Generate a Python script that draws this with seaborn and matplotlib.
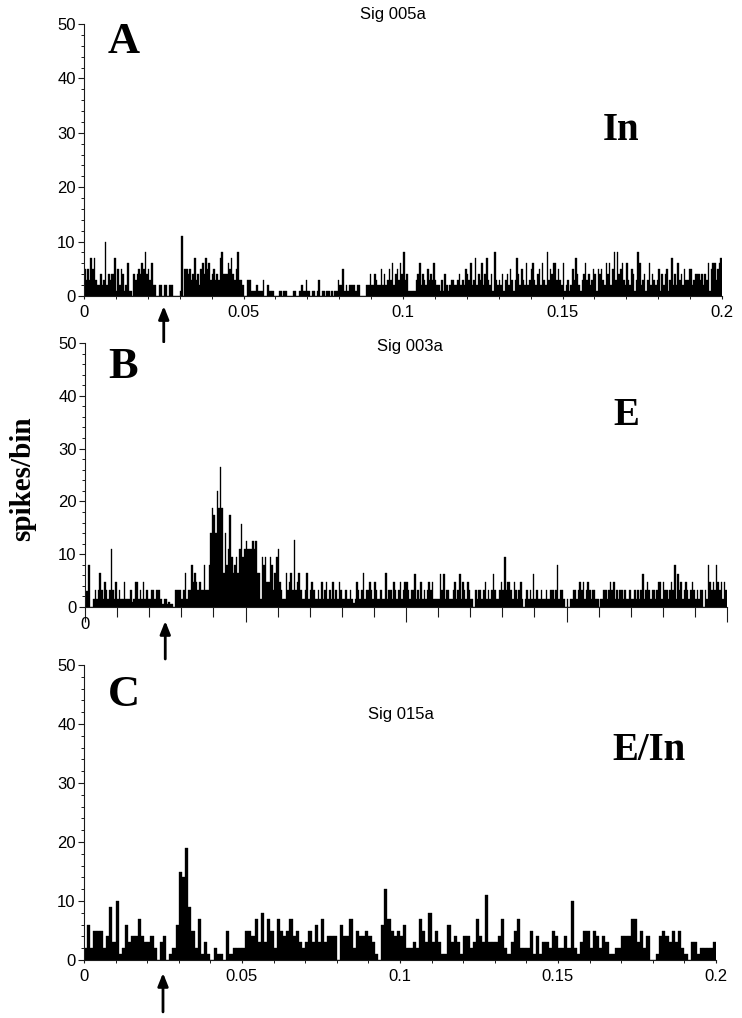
import numpy as np
import pandas as pd
import matplotlib
matplotlib.use("Agg")
import matplotlib.pyplot as plt
from matplotlib.ticker import MultipleLocator, FixedLocator, FixedFormatter
import seaborn as sns

# ---------------- data ----------------
# Panel A: Sig 005a, 0.5 ms bins, 0 - 0.2 s
a_counts = [
    5, 3, 5, 3, 7, 5, 7, 3, 2, 2,   4, 2, 3, 10, 2, 4, 3, 4, 4, 7,
    1, 5, 2, 5, 4, 1, 2, 6, 1, 1,   0, 4, 3, 4, 5, 4, 6, 5, 8, 4,
    5, 3, 6, 2, 2, 0, 0, 2, 2, 0,   2, 2, 0, 2, 2, 2, 0, 0, 0, 0,
    1, 11, 0, 5, 5, 4, 5, 3, 4, 7,  3, 4, 2, 5, 6, 4, 7, 5, 6, 3,
    4, 5, 3, 4, 3, 7, 8, 4, 4, 4,   6, 5, 7, 4, 3, 5, 8, 3, 3, 2,
    0, 0, 3, 3, 3, 1, 1, 1, 2, 1,   1, 1, 3, 0, 0, 2, 1, 1, 1, 0,
    0, 0, 1, 1, 0, 1, 1, 0, 0, 0,   0, 1, 1, 0, 0, 1, 2, 1, 1, 3,
    1, 1, 0, 1, 1, 0, 1, 3, 0, 1,   1, 0, 1, 1, 0, 1, 0, 1, 1, 3,
    2, 2, 5, 1, 2, 1, 2, 2, 2, 2,   1, 2, 2, 0, 0, 0, 0, 2, 2, 4,
    2, 2, 4, 3, 2, 2, 5, 2, 4, 2,   3, 5, 3, 6, 2, 4, 5, 3, 6, 4,
    8, 3, 4, 1, 1, 1, 1, 1, 3, 4,   6, 2, 4, 3, 2, 5, 3, 4, 3, 6,
    3, 2, 2, 1, 3, 1, 4, 2, 1, 2,   3, 3, 2, 2, 3, 4, 2, 3, 2, 5,
    4, 3, 6, 2, 3, 7, 2, 4, 3, 6,   2, 4, 7, 3, 2, 4, 1, 8, 3, 2,
    3, 2, 4, 1, 3, 4, 2, 5, 3, 1,   3, 7, 4, 2, 5, 3, 2, 6, 2, 3,
    5, 6, 3, 2, 4, 5, 2, 6, 3, 2,   8, 3, 5, 4, 6, 6, 3, 5, 3, 2,
    6, 1, 2, 3, 1, 2, 5, 3, 7, 4,   2, 1, 3, 4, 6, 3, 4, 2, 3, 5,
    4, 1, 5, 4, 5, 3, 2, 6, 4, 6,   2, 5, 8, 3, 8, 4, 5, 6, 3, 2,
    6, 3, 2, 5, 4, 1, 3, 8, 6, 2,   3, 4, 1, 3, 6, 2, 4, 3, 2, 3,
    5, 1, 4, 2, 4, 5, 1, 3, 7, 2,   4, 2, 6, 3, 4, 2, 5, 3, 3, 5,
    5, 2, 3, 4, 4, 4, 3, 4, 2, 4,   3, 6, 1, 5, 6, 6, 3, 5, 6, 7,
]

# Panel B: Sig 003a, 0.5 ms bins, 0 - 0.2 s
b_counts = [
    3, 3, 8, 0, 0, 1.6, 3.2, 1.6, 3.2, 6.5,  3.2, 1.6, 4.8, 3.2, 1.6, 3.2, 11, 3.2, 1.6, 4.8,
    1.6, 3.2, 1.6, 1.6, 4.8, 1.6, 1.6, 1.6, 3.2, 1,  1.6, 4.8, 4.8, 1.6, 3.2, 1.6, 4.8, 1.6, 3.2, 1.6,
    1.6, 3.2, 3.2, 1.6, 3.2, 3.2, 3.2, 1.6, 0.5, 1.6,  1.6, 0.5, 1, 0.5, 0.5, 0, 3.2, 3.2, 3.2, 3.2,
    1.6, 3.2, 6.5, 1.6, 3.2, 3.2, 8, 4.8, 6.5, 4.8,  3.2, 4.8, 3.2, 3.2, 8, 3.2, 3.2, 8, 14, 18.8,
    17.5, 14, 22, 18.8, 26.6, 18.8, 6.5, 14, 8, 11,  17.5, 9.5, 6.5, 8, 9.5, 6.5, 11, 15.8, 9.5, 11,
    12.5, 11, 11, 11, 12.5, 11, 12.5, 6.5, 6.5, 1.6,  9.5, 8, 9.5, 4.8, 4.8, 9.5, 8, 3.2, 6.5, 9.5,
    11, 4.8, 3.2, 1.6, 1.6, 6.5, 3.2, 4.8, 6.5, 3.2,  12.7, 3.2, 4.8, 6.5, 3.2, 1.6, 1.6, 3.2, 6.5, 1.6,
    3.2, 4.8, 3.2, 1.6, 1.6, 3.2, 1.6, 4.8, 1.6, 3.2,  4.8, 1.6, 3.2, 1.6, 4.8, 1.6, 3.2, 1.6, 4.8, 3.2,
    1.6, 1.6, 3.2, 1.6, 1.6, 3.2, 1.6, 0.8, 1.6, 4.8,  3.2, 1.6, 3.2, 6.5, 1.6, 3.2, 3.2, 4.8, 3.2, 1.6,
    4.8, 3.2, 1.6, 1.6, 3.2, 1.6, 1.6, 6.5, 1.6, 3.2,  3.2, 1.6, 4.8, 3.2, 1.6, 3.2, 4.8, 1.6, 3.2, 4.8,
    4.8, 3.2, 1.6, 3.2, 3.2, 6.3, 1.6, 3.2, 1.6, 4.8,  1.6, 3.2, 1.6, 3.2, 4.8, 3.2, 4.8, 1.6, 1.6, 1.6,
    1.6, 6.3, 3.2, 6.3, 1.6, 3.2, 3.2, 1.6, 1.6, 3.2,  4.8, 1.6, 3.2, 6.3, 1.6, 4.8, 3.2, 1.6, 4.8, 3.2,
    1.6, 1.6, 0, 3.2, 1.6, 3.2, 3.2, 1.6, 3.2, 4.8,  1.6, 3.2, 1.6, 3.2, 6.3, 3.2, 1.6, 1.6, 3.2, 4.8,
    3.2, 9.5, 3.2, 4.8, 4.8, 3.2, 1.6, 4.8, 3.2, 1.6,  3.2, 4.8, 1.6, 0, 1.6, 3.2, 1.6, 3.2, 1.6, 6.3,
    1.6, 3.2, 1.6, 1.6, 3.2, 1.6, 1.6, 3.2, 1.6, 1.6,  3.2, 3.2, 1.6, 3.2, 7.9, 1.6, 3.2, 3.2, 1.6, 0,
    1.6, 0, 1.6, 1.6, 3.2, 3.2, 1.6, 3.2, 4.8, 3.2,  4.8, 1.6, 3.2, 4.8, 3.2, 1.6, 3.2, 3.2, 1.6, 1.6,
    0, 1.6, 1.6, 3.2, 3.2, 1.6, 3.2, 4.8, 3.2, 4.8,  1.6, 3.2, 1.6, 3.2, 3.2, 1.6, 3.2, 1.6, 1.6, 3.2,
    1.6, 1.6, 3.2, 1.6, 3.2, 1.6, 3.2, 6.3, 1.6, 3.2,  4.8, 3.2, 1.6, 3.2, 3.2, 1.6, 3.2, 4.8, 4.8, 1.6,
    4.8, 3.2, 3.2, 1.6, 3.2, 4.8, 3.2, 7.9, 1.6, 6.3,  3.2, 4.8, 1.6, 3.2, 4.8, 3.2, 1.6, 3.2, 4.8, 3.2,
    1.6, 3.2, 1.6, 3.2, 3.2, 0, 3.2, 1.6, 7.9, 4.8,  3.2, 4.8, 3.2, 7.9, 4.8, 3.2, 4.8, 1.6, 4.8, 3.2,
]

# Panel C: Sig 015a, 1 ms bins, 0 - 0.2 s
c_counts = [
    2, 6, 2, 5, 5, 5, 2, 4, 9, 3,   10, 1, 2, 6, 3, 4, 4, 7, 4, 3,
    3, 4, 2, 0, 3, 4, 0, 1, 2, 6,   15, 14, 19, 9, 5, 2, 7, 1, 3, 1,
    0, 2, 1, 1, 0, 5, 1, 2, 2, 2,   2, 5, 5, 4, 7, 3, 8, 3, 7, 5,
    2, 7, 5, 4, 5, 7, 4, 5, 3, 2,   3, 5, 3, 6, 3, 7, 3, 4, 4, 4,
    0, 6, 4, 4, 7, 2, 5, 4, 4, 5,   4, 3, 1, 0, 6, 12, 7, 5, 4, 5,
    4, 6, 2, 2, 3, 2, 7, 5, 3, 8,   3, 5, 3, 1, 1, 6, 3, 4, 3, 1,
    4, 4, 2, 3, 7, 4, 3, 11, 3, 3,  3, 4, 7, 2, 1, 3, 5, 7, 2, 2,
    2, 5, 1, 4, 1, 3, 3, 2, 5, 4,   2, 2, 4, 2, 10, 2, 1, 3, 5, 5,
    2, 5, 4, 2, 4, 3, 1, 1, 2, 2,   4, 4, 4, 7, 7, 3, 5, 2, 4, 0,
    0, 1, 4, 5, 4, 3, 5, 3, 5, 2,   1, 0, 3, 3, 1, 2, 2, 2, 2, 3,
]

panel_letters = ["A", "B", "C"]
panel_titles = ["Sig 005a", "Sig 003a", "Sig 015a"]
panel_types = ["In", "E", "E/In"]
x_tick_vals = [0, 0.05, 0.1, 0.15, 0.2]
x_tick_labels = ["0", "0.05", "0.1", "0.15", "0.2"]
y_tick_vals = [0, 10, 20, 30, 40, 50]
y_label = "spikes/bin"
stim_time = 0.025

# ---------------- figure ----------------
sns.set_style("ticks")
plt.rcParams["font.family"] = ["Liberation Sans", "DejaVu Sans"]
plt.rcParams["text.color"] = "black"
plt.rcParams["xtick.color"] = "black"
plt.rcParams["ytick.color"] = "black"
plt.rcParams["xtick.labelcolor"] = "black"
plt.rcParams["ytick.labelcolor"] = "black"
W, H = 742, 1018
fig = plt.figure(figsize=(W / 100, H / 100), dpi=100)

def fx(px):
    return px / W

def fy(py):
    return 1 - py / H

# axes boxes in pixels: left, right, top(y=50), bottom(y=0)
boxes = [(84, 722, 24, 296), (85, 727, 343, 607), (84, 716, 665, 960)]
datasets = [a_counts, b_counts, c_counts]
binw = [0.0005, 0.0005, 0.001]

SP = "#1a1a1a"
axes = []
for i, (l, r, t, b) in enumerate(boxes):
    ax = fig.add_axes([fx(l), fy(b), fx(r) - fx(l), (b - t) / H])
    vals = np.asarray(datasets[i], dtype=float)
    w = binw[i]
    n = len(vals)
    df = pd.DataFrame({"t": (np.arange(n) + 0.5) * w, "n": vals})
    sns.histplot(data=df, x="t", weights="n", bins=n, binrange=(0, n * w),
                 ax=ax, color="black", alpha=1, linewidth=0.25,
                 edgecolor="black")
    ax.set_xlim(0, 0.2)
    ax.set_ylim(0, 50)
    ax.set_ylabel("")
    ax.set_xlabel("")
    for s in ["top", "right"]:
        ax.spines[s].set_visible(False)
    for s in ["left", "bottom"]:
        ax.spines[s].set_color(SP)
        ax.spines[s].set_linewidth(0.8)
    ax.yaxis.set_major_locator(FixedLocator(y_tick_vals))
    ax.yaxis.set_minor_locator(MultipleLocator(2))
    ax.tick_params(axis="y", which="major", direction="out", length=4.5,
                   width=0.8, color=SP, labelsize=12, pad=1.5,
                   labelcolor="black")
    ax.tick_params(axis="y", which="minor", direction="out", length=2,
                   width=0.7, color=SP)
    ax.xaxis.set_major_locator(FixedLocator(x_tick_vals))
    ax.xaxis.set_minor_locator(MultipleLocator(0.01))
    if i == 1:
        ax.xaxis.set_major_formatter(FixedFormatter(["0", "", "", "", ""]))
        ax.tick_params(axis="x", which="major", direction="out", length=11,
                       width=0.8, color=SP, labelsize=12, pad=-4,
                       labelcolor="black")
        ax.tick_params(axis="x", which="minor", direction="out", length=7,
                       width=0.8, color=SP)
    else:
        ax.xaxis.set_major_formatter(FixedFormatter(x_tick_labels))
        ax.tick_params(axis="x", which="major", direction="out", length=2.5,
                       width=0.8, color=SP, labelsize=12, pad=4,
                       labelcolor="black")
        ax.tick_params(axis="x", which="minor", direction="out", length=2,
                       width=0.7, color=SP)
    axes.append(ax)

# arrows (stimulus time) : tip / tail in axes fraction
arrow_y = [(-0.037, -0.169), (-0.053, -0.197), (-0.044, -0.176)]
for ax, (tip, tail) in zip(axes, arrow_y):
    ax.annotate("", xy=(stim_time, tip), xytext=(stim_time, tail),
                xycoords=("data", "axes fraction"),
                textcoords=("data", "axes fraction"),
                arrowprops=dict(arrowstyle="-|>,head_length=0.55,head_width=0.22",
                                color="black", lw=2.0, mutation_scale=14,
                                shrinkA=0, shrinkB=0),
                annotation_clip=False)

serif = ["Liberation Serif", "DejaVu Serif"]
# panel letters
letter_pos = [(123.5, 53), (123, 378), (123.5, 706)]
for (x, y), s in zip(letter_pos, panel_letters):
    fig.text(fx(x), fy(y), s, family=serif, fontweight="bold", fontsize=32,
             ha="center", va="baseline", color="black")

# titles
title_pos = [(393, 15), (410, 347), (401, 715)]
for (x, y), s in zip(title_pos, panel_titles):
    fig.text(fx(x), fy(y), s, fontsize=12, ha="center", va="center",
             color="black")

# type labels
type_pos = [(621.5, 140), (626, 425), (649, 760)]
for (x, y), s in zip(type_pos, panel_types):
    fig.text(fx(x), fy(y), s, family=serif, fontweight="bold", fontsize=28,
             ha="center", va="baseline", color="black")

fig.text(fx(22.5), fy(479), y_label, family=serif, fontweight="bold",
         fontsize=21, rotation=90, ha="center", va="center", color="black")

fig.savefig("out.png", dpi=100)
